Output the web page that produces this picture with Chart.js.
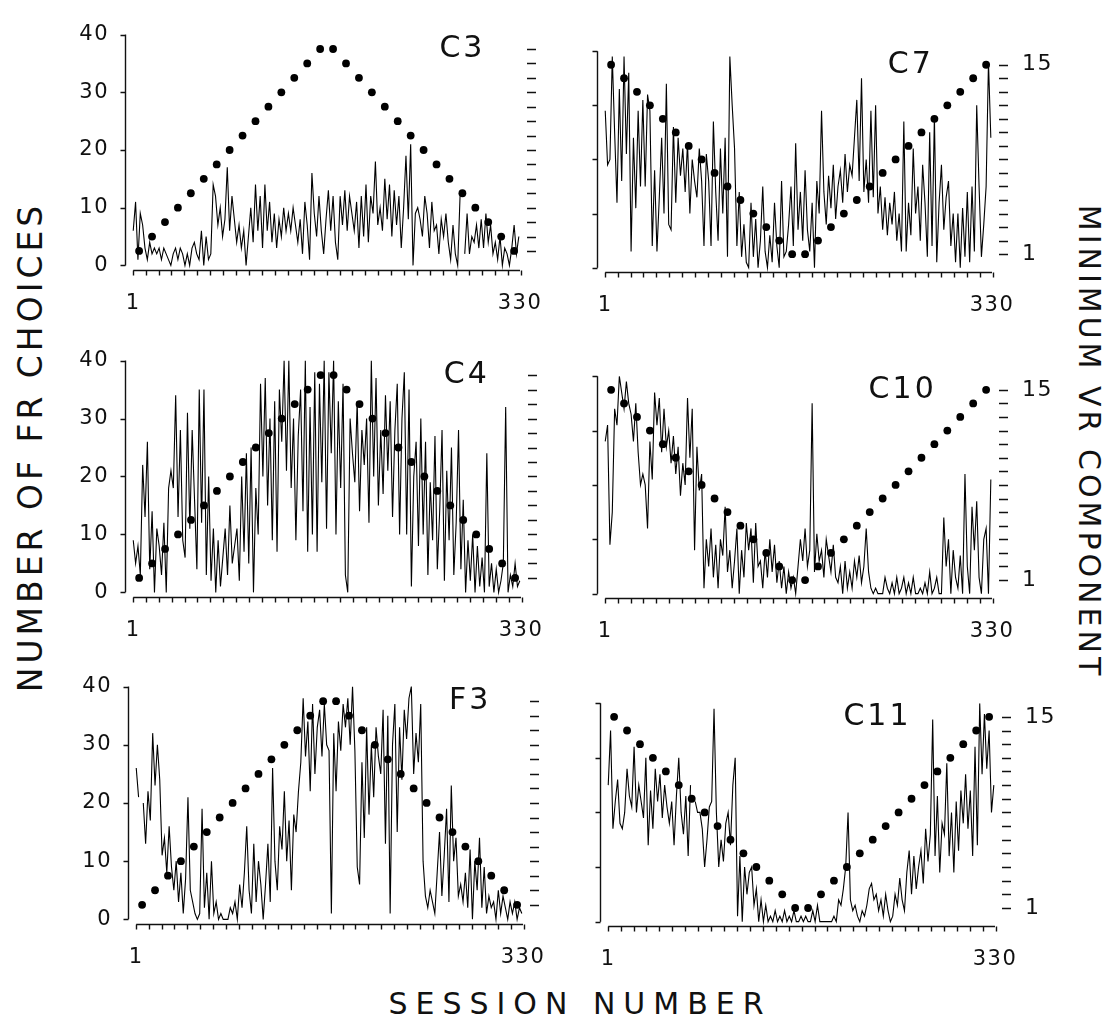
<!DOCTYPE html>
<html>
<head>
<meta charset="utf-8">
<title>FR choices by session</title>
<script src="https://cdn.jsdelivr.net/npm/chart.js@4.4.1/dist/chart.umd.min.js"></script>
<style>
  html, body { margin: 0; padding: 0; background: #fff; }
  body { width: 1115px; height: 1032px; position: relative; overflow: hidden; font-family: "DejaVu Sans", sans-serif; color: #111; }
  .panel { position: absolute; }
  .title { position: absolute; white-space: nowrap; font-size: 30px; line-height: 1; color: #111; }
  #xTitle { left: 580px; top: 1004px; letter-spacing: 8px; transform: translate(-50%, -50%); }
  #yTitle { left: 30px; top: 447px; font-size: 33px; letter-spacing: 4px; transform: translate(-50%, -50%) rotate(-90deg); }
  #y2Title { left: 1089px; top: 442px; letter-spacing: 4px; transform: translate(-50%, -50%) rotate(90deg); }
</style>
</head>
<body>
<div class="title" id="xTitle">SESSION NUMBER</div>
<div class="title" id="yTitle">NUMBER OF FR CHOICES</div>
<div class="title" id="y2Title">MINIMUM VR COMPONENT</div>
<script>
// one plotted value every two sessions (1, 3, 5 ... 329)
const SESSION_STEP = 2;
const Y_TICKS = [0, 10, 20, 30, 40];
const VR_LABELS = [1, 15];
const VR_TICKS = [1, 2, 3, 4, 5, 6, 7, 8, 9, 10, 11, 12, 13, 14, 15];

// minimum VR value, one per 11-session condition (plotted mid-condition)
const DOT_SESSIONS = [6, 17, 28, 39, 50, 61, 72, 83, 94, 105, 116, 127, 138, 149, 160,
                      171, 182, 193, 204, 215, 226, 237, 248, 259, 270, 281, 292, 303, 314, 325];
const VR_RISE_FALL = [1, 2, 3, 4, 5, 6, 7, 8, 9, 10, 11, 12, 13, 14, 15,
                      15, 14, 13, 12, 11, 10, 9, 8, 7, 6, 5, 4, 3, 2, 1];
const VR_FALL_RISE = [15, 14, 13, 12, 11, 10, 9, 8, 7, 6, 5, 4, 3, 2, 1,
                      1, 2, 3, 4, 5, 6, 7, 8, 9, 10, 11, 12, 13, 14, 15];

// number of FR choices per session, per subject
const C3_FR = [
  6, 11, 1, 9, 7, 3, 1, 4, 2, 3, 2,
  3, 1, 3, 2, 1, 0, 2, 3, 1, 3, 2,
  0, 2, 0, 3, 4, 2, 1, 6, 0, 5, 1,
  2, 14, 12, 7, 10, 5, 8, 17, 6, 12, 8,
  4, 7, 3, 6, 0, 5, 10, 4, 14, 6, 12,
  3, 14, 6, 11, 4, 9, 3, 8, 5, 10, 6,
  9, 6, 10, 7, 4, 8, 2, 11, 7, 1, 16,
  9, 5, 12, 6, 2, 8, 13, 6, 12, 4, 1,
  12, 7, 13, 6, 12, 9, 6, 11, 3, 12, 5,
  14, 4, 12, 9, 18, 7, 10, 6, 15, 8, 14,
  5, 13, 7, 12, 3, 10, 19, 8, 21, 0, 9,
  10, 8, 5, 12, 9, 3, 11, 6, 7, 2, 8,
  5, 9, 4, 1, 7, 2, 0, 12, null, 2, 9,
  2, 5, 4, 7, 3, 8, 3, 9, 4, 7, 2,
  4, 1, 5, 0, 3, 2, 0, 3, 7, 2, 5
];
const C7_FR = [
  29, 19, 20, 39, 25, 12, 33, 16, 39, 21, 36,
  3, 24, 11, 29, 15, 31, 15, 32, 29, 4, 18,
  3, 13, 24, 10, 34, 8, 7, 26, 12, 24, 17,
  22, 14, 23, 10, 20, 16, 13, 22, 16, 4, 21,
  16, 4, 27, 14, 5, 22, 10, 24, 2, 39, 30,
  22, 4, 14, 2, 8, 1, 0, 12, 2, 9, 0,
  5, 15, 3, 0, 6, 1, 12, 4, 0, 16, 2,
  3, 8, 15, 4, 23, 7, 14, 5, 18, 7, 3,
  12, 0, 16, 10, 29, 14, 8, 17, 11, 19, 9,
  15, 18, 12, 21, 14, 19, 17, 24, 31, 16, 35,
  14, 20, 12, 29, 13, 30, 10, 15, 7, 13, 6,
  12, 8, 14, 5, 10, 3, 27, 3, 12, 6, 22,
  10, 15, 5, 19, 12, 2, 25, 4, 28, 1, 12,
  19, 7, 13, 16, 4, 10, 1, 10, 0, 11, 2,
  14, 1, 15, 3, 30, 15, 2, 8, 15, 38, 24
];
const C4_FR = [
  9, 5, 8, 3, 22, 13, 26, 4, 14, 0, 11,
  8, 3, 12, 0, 18, 21, 18, 34, 13, 28, 9,
  6, 31, 11, 28, 16, 4, 35, 12, 35, 3, 20,
  2, 11, 0, 9, 1, 6, 11, 3, 15, 5, 8,
  11, 2, 20, 7, 24, 5, 25, 0, 18, 10, 36,
  20, 37, 15, 30, 9, 33, 7, 35, 26, 40, 21,
  40, 18, 30, 9, 27, 35, 14, 40, 7, 32, 10,
  38, 7, 36, 19, 40, 11, 38, 24, 40, 10, 33,
  18, 36, 3, 0, 30, 24, 19, 33, 14, 28, 22,
  30, 12, 40, 20, 37, 15, 28, 17, 34, 21, 33,
  13, 28, 36, 10, 30, 38, 10, 35, 1, 20, 26,
  8, 30, 10, 26, 3, 19, 9, 27, 4, 14, 28,
  2, 21, 9, 25, 3, 12, 28, 4, 16, 0, 9,
  2, 10, 0, 8, 1, 6, 0, 24, 1, 5, 0,
  4, 0, 2, 5, 32, 0, 3, 1, 5, 1, 2
];
const C10_FR = [
  28, 31, 9, 15, 34, 31, 40, 37, 34, 39, 35,
  33, 28, 35, 26, 20, 22, 20, 12, 28, 21, 37,
  31, 36, 26, 34, 27, 30, 24, 29, 22, 27, 18,
  24, 20, 36, 25, 34, 8, 27, 19, 22, 1, 10,
  5, 12, 3, 9, 1, 10, 7, 16, 4, 8, 1,
  6, 12, 0, 8, 3, 13, 8, 12, 2, 13, 5,
  6, 1, 8, 3, 10, 4, 9, 2, 6, 1, 5,
  0, 4, 1, 3, 0, 5, 10, 6, 12, 5, 8,
  35, 4, 11, 6, 8, 3, 10, 7, 4, 9, 3,
  2, 5, 0, 6, 1, 4, 1, 6, 3, 7, 2,
  5, 12, 4, 1, 0, 1, 0, 0, 0, 3, 1,
  0, 2, 0, 3, 0, 1, 3, 0, 2, 0, 3,
  0, 0, 1, 0, 2, 0, 4, 0, 1, 3, 0,
  0, 14, 5, 10, 0, 8, 3, 1, 7, 0, 22,
  5, 0, 16, 8, 17, 3, 0, 10, 12, 0, 21
];
const F3_FR = [
  26, 21, null, 20, 13, 22, 17, 32, 23, 30, 24,
  11, 14, 8, 16, 9, 5, 10, 3, 8, 1, 7,
  21, 5, 3, 1, 0, 1, 19, 2, 8, 0, 10,
  1, 3, 0, 1, 0, 0, 0, 2, 1, 3, 0,
  6, 2, 8, 16, 5, 1, 13, 3, 10, 6, 0,
  6, 13, 3, 26, 10, 5, 16, 12, 22, 10, 17,
  5, 18, 15, 22, 27, 38, 28, 34, 22, 37, 25,
  33, 36, 28, 37, 30, 29, 1, 32, 22, 34, 29,
  37, 33, 38, 30, 40, 29, 9, 6, 27, 14, 33,
  18, 30, 21, 33, 28, 25, 36, 13, 35, 1, 30,
  37, 15, 33, 24, 36, 31, 38, 40, 25, 32, 27,
  37, 10, 4, 2, 5, 3, 1, 8, 15, 4, 11,
  19, 3, 23, 10, 14, 4, 6, 3, 8, 2, 12,
  0, 10, 5, 14, 2, 9, 1, 4, 2, 3, 0,
  5, 1, 4, 2, 0, 3, 1, 3, 0, 2, 1
];
const C11_FR = [
  25, 35, 17, 22, 26, 18, 17, 20, 28, 23, 21,
  32, 20, 25, 22, 19, 30, 14, 24, 17, 28, 22,
  27, 19, 25, 21, 18, 22, 14, 23, 30, 20, 16,
  23, 12, 25, null, 22, 20, 20, 17, 10, 15, 21,
  22, 39, 20, 10, 15, 11, 18, 20, 14, 25, 30,
  1, 12, 0, 10, 5, 9, 10, 3, 6, 0, 4,
  0, 3, 0, 1, 0, 2, 0, 1, 0, 2, 0,
  1, 0, 2, 0, 0, 1, 0, 1, 0, 0, 2,
  0, 3, 0, 0, 0, 0, 0, 0, 1, 0, 4,
  3, 6, 10, 20, 4, 2, 3, 1, 0, 2, 1,
  3, 6, 7, 4, 5, 2, 4, 1, 5, 2, 0,
  1, 5, 3, 8, 4, 2, 9, 13, 5, 12, 6,
  10, 13, 7, 17, 11, 16, 37, 12, 23, 9, 18,
  16, 29, 12, 20, 9, 22, 13, 24, 18, 27, 17,
  24, 12, 32, 14, 40, 27, 38, 28, 35, 20, 25
];

// plot rectangles: left = y axis line, right = session 330, top = 40, bottom = x axis line
const PANELS = [
  { name: 'C3',  fr: C3_FR,  vr: VR_RISE_FALL, left: 125, top: 21,  right: 520, bottom: 270, labelAt: 281, leftLabels: true,  rightLabels: false },
  { name: 'C7',  fr: C7_FR,  vr: VR_FALL_RISE, left: 597, top: 23,  right: 992, bottom: 272, labelAt: 261, leftLabels: false, rightLabels: true },
  { name: 'C4',  fr: C4_FR,  vr: VR_RISE_FALL, left: 125, top: 347, right: 521, bottom: 597, labelAt: 284, leftLabels: true,  rightLabels: false },
  { name: 'C10', fr: C10_FR, vr: VR_FALL_RISE, left: 597, top: 348, right: 992, bottom: 598, labelAt: 254, leftLabels: false, rightLabels: true },
  { name: 'F3',  fr: F3_FR,  vr: VR_RISE_FALL, left: 128, top: 673, right: 523, bottom: 924, labelAt: 285, leftLabels: true,  rightLabels: false },
  { name: 'C11', fr: C11_FR, vr: VR_FALL_RISE, left: 600, top: 675, right: 995, bottom: 926, labelAt: 230, leftLabels: false, rightLabels: true }
];

const INK = '#111';
const FONT = '"DejaVu Sans", sans-serif';
const PAD_L = 70, PAD_R = 70, PAD_T = 15, PAD_B = 45;

Chart.defaults.font.family = FONT;
Chart.defaults.font.size = 21;
Chart.defaults.color = INK;

// axis lines, tick marks, right-hand VR dashes and the subject label
const panelFrame = {
  id: 'panelFrame',
  beforeDraw(chart) {
    // slightly open digits on the tick labels
    chart.ctx.letterSpacing = '1.5px';
  },
  afterDraw(chart, args, opts) {
    const { ctx, chartArea } = chart;
    const x = chart.scales.x, y = chart.scales.y, y2 = chart.scales.y2;
    ctx.save();
    ctx.strokeStyle = INK;
    ctx.lineWidth = 1.4;

    const ax = Math.round(chartArea.left) + 0.5;
    ctx.beginPath();
    ctx.moveTo(ax, y.getPixelForValue(40));
    ctx.lineTo(ax, y.getPixelForValue(0));
    Y_TICKS.forEach(v => {
      const py = Math.round(y.getPixelForValue(v)) + 0.5;
      ctx.moveTo(ax - 5, py);
      ctx.lineTo(ax, py);
    });
    ctx.stroke();

    const by = Math.round(chartArea.bottom) + 0.5;
    ctx.beginPath();
    ctx.moveTo(x.getPixelForValue(1), by);
    ctx.lineTo(x.getPixelForValue(330), by);
    for (let k = 0; k <= 30; k++) {
      const px = Math.round(x.getPixelForValue(0.5 + 11 * k)) + 0.5;
      ctx.moveTo(px, by);
      ctx.lineTo(px, by + 5);
    }
    ctx.stroke();

    ctx.lineWidth = 1.6;
    ctx.beginPath();
    VR_TICKS.forEach(v => {
      const py = Math.round(y2.getPixelForValue(v)) + 0.5;
      ctx.moveTo(chartArea.right + 7, py);
      ctx.lineTo(chartArea.right + 16, py);
    });
    ctx.stroke();

    ctx.fillStyle = INK;
    ctx.font = '30px ' + FONT;
    ctx.letterSpacing = '3px';
    ctx.textAlign = 'center';
    ctx.textBaseline = 'middle';
    ctx.fillText(opts.label, x.getPixelForValue(opts.labelAt), y.getPixelForValue(37.5));
    ctx.restore();
  }
};

function drawPanel(p) {
  const w = (p.right - p.left) + PAD_L + PAD_R;
  const h = (p.bottom - p.top) + PAD_T + PAD_B;
  const wrap = document.createElement('div');
  wrap.className = 'panel';
  wrap.style.left = (p.left - PAD_L) + 'px';
  wrap.style.top = (p.top - PAD_T) + 'px';
  wrap.style.width = w + 'px';
  wrap.style.height = h + 'px';
  const canvas = document.createElement('canvas');
  canvas.width = w;
  canvas.height = h;
  canvas.style.width = w + 'px';
  canvas.style.height = h + 'px';
  wrap.appendChild(canvas);
  document.body.appendChild(wrap);

  const frPoints = p.fr.map((v, i) => ({ x: 1 + i * SESSION_STEP, y: v }));
  const vrPoints = p.vr.map((v, i) => ({ x: DOT_SESSIONS[i], y: v }));

  new Chart(canvas, {
    type: 'line',
    data: {
      datasets: [
        {
          label: 'FR choices',
          data: frPoints,
          yAxisID: 'y',
          borderColor: '#000',
          borderWidth: 1.1,
          pointRadius: 0,
          tension: 0,
          spanGaps: false,
          order: 1
        },
        {
          label: 'Minimum VR',
          data: vrPoints,
          yAxisID: 'y2',
          showLine: false,
          pointRadius: 3.9,
          pointBackgroundColor: '#000',
          pointBorderWidth: 0,
          order: 0
        }
      ]
    },
    options: {
      responsive: false,
      animation: false,
      events: [],
      layout: { padding: { top: PAD_T, left: 0, right: 0, bottom: 0 } },
      plugins: {
        legend: { display: false },
        tooltip: { enabled: false },
        panelFrame: { label: p.name, labelAt: p.labelAt }
      },
      scales: {
        x: {
          type: 'linear',
          min: -6,
          max: 330,
          afterFit: s => { s.height = PAD_B; },
          afterBuildTicks: s => { s.ticks = [{ value: 1 }, { value: 330 }]; },
          grid: { display: false, drawTicks: false },
          border: { display: false },
          ticks: { padding: 21, maxRotation: 0, autoSkip: false }
        },
        y: {
          position: 'left',
          min: -0.8,
          max: 40,
          afterFit: s => { s.width = PAD_L; },
          afterBuildTicks: s => { s.ticks = Y_TICKS.map(v => ({ value: v })); },
          grid: { display: false, drawTicks: false },
          border: { display: false },
          ticks: { display: p.leftLabels, padding: 16 }
        },
        y2: {
          position: 'right',
          min: -0.32,
          max: 16,
          afterFit: s => { s.width = PAD_R; },
          afterBuildTicks: s => { s.ticks = VR_LABELS.map(v => ({ value: v })); },
          grid: { display: false, drawTicks: false },
          border: { display: false },
          ticks: { display: p.rightLabels, padding: 30, font: { size: 22 } }
        }
      }
    },
    plugins: [panelFrame]
  });
}

PANELS.forEach(drawPanel);
</script>
</body>
</html>
